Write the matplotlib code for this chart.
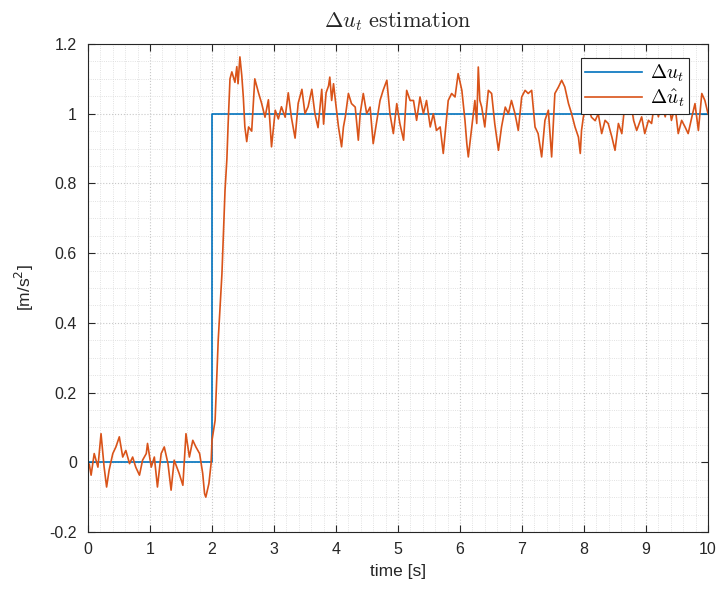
import numpy as np
import matplotlib
matplotlib.use("Agg")
import matplotlib.pyplot as plt
from matplotlib.ticker import MultipleLocator, FuncFormatter

plt.rcParams['font.family'] = ['Liberation Sans', 'DejaVu Sans']
plt.rcParams['mathtext.fontset'] = 'cm'
plt.rcParams['axes.unicode_minus'] = False

# true step input
t_true = [0.0, 2.0, 2.0, 10.0]
u_true = [0.0, 0.0, 1.0, 1.0]

# estimate
t_est = [0.00, 0.02, 0.05, 0.10, 0.16, 0.21, 0.26, 0.30, 0.34, 0.40,
         0.45, 0.505, 0.56, 0.61, 0.67, 0.72, 0.77, 0.83, 0.88, 0.94,
         0.96, 1.02, 1.07, 1.12, 1.18, 1.23, 1.29, 1.34, 1.39, 1.47,
         1.53, 1.58, 1.635, 1.69, 1.74, 1.80, 1.85, 1.88, 1.90, 1.95,
         1.985, 2.00, 2.05, 2.10, 2.16, 2.21, 2.24, 2.26, 2.29, 2.32,
         2.37, 2.40, 2.42, 2.45, 2.48, 2.505, 2.53, 2.56, 2.59, 2.64,
         2.69, 2.75, 2.80, 2.855, 2.91, 2.96, 3.02, 3.07, 3.12, 3.18,
         3.23, 3.28, 3.34, 3.39, 3.45, 3.50, 3.55, 3.61, 3.66, 3.71,
         3.77, 3.80, 3.84, 3.88, 3.90, 3.93, 3.96, 3.99, 4.04, 4.09,
         4.12, 4.15, 4.20, 4.25, 4.31, 4.36, 4.39, 4.44, 4.495, 4.55,
         4.60, 4.66, 4.71, 4.76, 4.82, 4.87, 4.925, 4.98, 5.03, 5.09,
         5.14, 5.195, 5.25, 5.30, 5.355, 5.41, 5.46, 5.52, 5.57, 5.62,
         5.68, 5.73, 5.76, 5.81, 5.865, 5.92, 5.97, 6.03, 6.08, 6.11,
         6.134, 6.19, 6.24, 6.27, 6.295, 6.32, 6.35, 6.40, 6.457, 6.51,
         6.56, 6.62, 6.67, 6.73, 6.78, 6.83, 6.887, 6.94, 6.995, 7.05,
         7.10, 7.156, 7.21, 7.26, 7.317, 7.37, 7.425, 7.478, 7.53, 7.586,
         7.64, 7.69, 7.75, 7.80, 7.855, 7.91, 7.94, 7.96, 7.99, 8.05,
         8.12, 8.18, 8.23, 8.285, 8.34, 8.39, 8.45, 8.50, 8.555, 8.61,
         8.66, 8.74, 8.80, 8.85, 8.93, 8.98, 9.04, 9.09, 9.145, 9.20,
         9.25, 9.31, 9.36, 9.41, 9.47, 9.52, 9.575, 9.63, 9.68, 9.74,
         9.79, 9.845, 9.90, 9.95, 10.0]
u_est = [-0.020, -0.005, -0.037, 0.025, -0.014, 0.082, -0.014, -0.071, -0.023, 0.025,
         0.044, 0.073, 0.015, 0.034, -0.004, 0.015, -0.014, -0.037, 0.006, 0.025,
         0.054, -0.014, 0.015, -0.071, 0.025, 0.044, -0.004, -0.080, 0.006, -0.032,
         -0.066, 0.082, 0.015, 0.063, 0.044, 0.025, -0.032, -0.090, -0.100, -0.061,
         -0.004, 0.063, 0.120, 0.350, 0.540, 0.780, 0.870, 0.970, 1.100, 1.120,
         1.090, 1.135, 1.086, 1.163, 1.110, 1.048, 0.962, 0.920, 0.962, 0.950,
         1.100, 1.060, 1.030, 0.990, 1.040, 0.905, 1.010, 0.985, 1.020, 0.990,
         1.060, 0.990, 0.930, 1.030, 1.070, 1.000, 1.020, 1.070, 1.000, 0.960,
         1.070, 0.970, 1.060, 1.080, 1.105, 1.038, 1.086, 1.038, 0.962, 0.905,
         0.962, 0.991, 1.058, 1.029, 1.019, 0.924, 1.000, 1.058, 1.000, 1.019,
         0.914, 0.981, 1.038, 1.067, 1.096, 1.000, 0.943, 1.029, 0.972, 0.924,
         1.067, 1.038, 1.038, 0.981, 1.048, 1.000, 1.038, 0.962, 1.000, 0.952,
         0.962, 0.886, 0.943, 1.038, 1.058, 1.048, 1.115, 1.067, 0.981, 0.914,
         0.876, 0.962, 1.038, 0.972, 1.134, 1.038, 1.019, 0.962, 1.067, 1.058,
         0.972, 0.895, 0.962, 1.019, 1.000, 1.038, 1.000, 0.952, 1.048, 1.067,
         1.058, 1.067, 0.962, 0.943, 0.876, 0.981, 1.010, 0.876, 1.058, 1.076,
         1.096, 1.077, 1.029, 1.000, 0.962, 0.933, 0.886, 0.952, 0.991, 1.030,
         0.990, 0.980, 1.000, 0.943, 0.981, 0.972, 0.933, 0.895, 0.972, 0.943,
         1.030, 1.050, 0.981, 0.952, 0.991, 0.943, 0.981, 0.972, 1.040, 0.991,
         1.030, 0.991, 1.040, 0.981, 1.020, 0.943, 0.981, 0.962, 0.943, 0.991,
         1.029, 0.952, 1.058, 1.038, 1.000]

fig = plt.figure(figsize=(7.19, 5.93), dpi=100)
ax = fig.add_axes([0.1224, 0.1029, 0.8623, 0.8229])

ax.plot(t_true, u_true, color='#0072BD', lw=1.2, label=r'$\Delta u_t$')
ax.plot(t_est, u_est, color='#D95319', lw=1.2, label=r'$\Delta \hat{u}_t$')

ax.set_xlim(0, 10)
ax.set_ylim(-0.2, 1.2)
ax.xaxis.set_major_locator(MultipleLocator(1))
ax.xaxis.set_minor_locator(MultipleLocator(0.2))
ax.yaxis.set_major_locator(MultipleLocator(0.2))
ax.yaxis.set_minor_locator(MultipleLocator(0.05))
ax.yaxis.set_major_formatter(FuncFormatter(lambda v, p: '%g' % round(v, 2)))

ax.grid(which='major', color='#c8c8c8', ls=':', lw=0.8)
ax.grid(which='minor', color='#d8d8d8', ls=':', lw=0.6)
ax.set_axisbelow(True)

ax.tick_params(which='major', direction='in', length=5, width=0.8, top=True, right=True,
               labelsize=11.5, colors='#262626')
ax.tick_params(axis='x', which='major', pad=7)
ax.tick_params(axis='y', which='major', pad=8)
ax.tick_params(which='minor', length=0, top=True, right=True)
for s in ax.spines.values():
    s.set_color('#262626')
    s.set_linewidth(0.8)

ax.set_xlabel('time [s]', fontsize=12.5, color='#262626', labelpad=5)
ax.set_ylabel(r'[m/s$^2$]', fontsize=12.5, color='#262626', labelpad=10,
              math_fontfamily='dejavusans')
ax.set_title(r'$\Delta u_t\ \mathrm{estimation}$', fontsize=16, color='#262626', pad=12)

leg = ax.legend(loc='upper right', bbox_to_anchor=(0.9695, 0.971), fancybox=False,
                framealpha=1, edgecolor='#262626', fontsize=14, handlelength=2.9,
                borderpad=0.25, labelspacing=0.15, handletextpad=0.4, borderaxespad=0)
leg.get_frame().set_linewidth(0.8)

fig.savefig('out.png', dpi=100)
